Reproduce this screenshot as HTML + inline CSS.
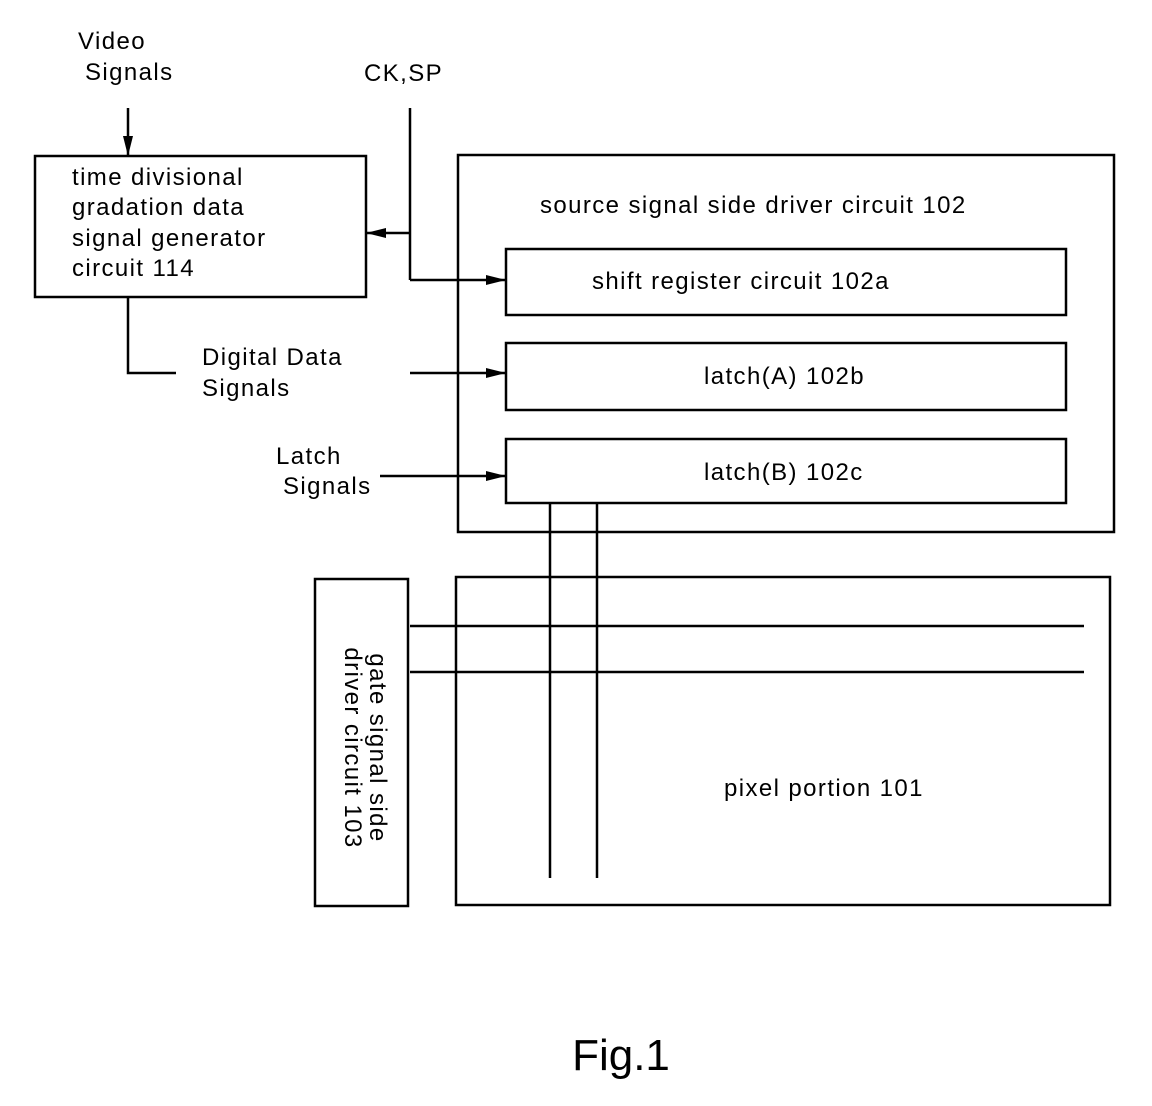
<!DOCTYPE html>
<html><head><meta charset="utf-8"><style>body{margin:0;background:#fff}svg{display:block}</style></head><body>
<svg width="1152" height="1106" viewBox="0 0 1152 1106" xmlns="http://www.w3.org/2000/svg" font-family="Liberation Sans, sans-serif" font-size="24" letter-spacing="1.4" fill="#000">
<defs><marker id="a" markerWidth="20" markerHeight="10" refX="20" refY="5" orient="auto" markerUnits="userSpaceOnUse"><path d="M0,0 L20,5 L0,10 Z" fill="#000"/></marker></defs>
<g stroke="#000" stroke-width="2.5" fill="none">
<rect x="35" y="156" width="331" height="141"/>
<rect x="458" y="155" width="656" height="377"/>
<rect x="506" y="249" width="560" height="66"/>
<rect x="506" y="343" width="560" height="67"/>
<rect x="506" y="439" width="560" height="64"/>
<rect x="315" y="579" width="93" height="327"/>
<rect x="456" y="577" width="654" height="328"/>
<line x1="128" y1="108" x2="128" y2="156" marker-end="url(#a)"/>
<line x1="410" y1="108" x2="410" y2="280"/>
<line x1="410" y1="233" x2="366" y2="233" marker-end="url(#a)"/>
<line x1="410" y1="280" x2="506" y2="280" marker-end="url(#a)"/>
<line x1="410" y1="373" x2="506" y2="373" marker-end="url(#a)"/>
<line x1="380" y1="476" x2="506" y2="476" marker-end="url(#a)"/>
<polyline points="128,297 128,373 176,373"/>
<line x1="410" y1="626" x2="1084" y2="626"/>
<line x1="410" y1="672" x2="1084" y2="672"/>
<line x1="550" y1="503" x2="550" y2="878"/>
<line x1="597" y1="503" x2="597" y2="878"/>
</g>
<text x="78" y="49">Video</text>
<text x="85" y="80">Signals</text>
<text x="364" y="81">CK,SP</text>
<text x="72" y="185">time divisional</text>
<text x="72" y="215">gradation data</text>
<text x="72" y="246">signal generator</text>
<text x="72" y="276">circuit 114</text>
<text x="202" y="365">Digital Data</text>
<text x="202" y="396">Signals</text>
<text x="276" y="464">Latch</text>
<text x="283" y="494">Signals</text>
<text x="540" y="213">source signal side driver circuit 102</text>
<text x="592" y="289">shift register circuit 102a</text>
<text x="704" y="384">latch(A) 102b</text>
<text x="704" y="480">latch(B) 102c</text>
<text x="724" y="796">pixel portion 101</text>
<g transform="translate(362,748) rotate(90)" text-anchor="middle">
<text x="0" y="-8">gate signal side</text>
<text x="0" y="17">driver circuit 103</text>
</g>
<text x="621" y="1070" font-size="44" letter-spacing="0" text-anchor="middle">Fig.1</text>
</svg>
</body></html>
